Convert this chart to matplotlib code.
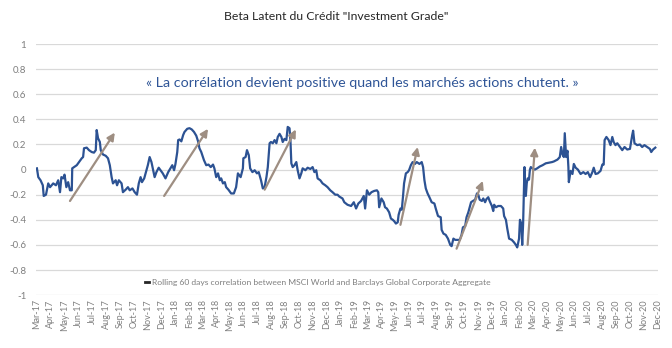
import pandas as pd
import numpy as np
import matplotlib
matplotlib.use('Agg')
import matplotlib.pyplot as plt

plt.rcParams['font.family'] = ['Lato', 'DejaVu Sans']

# rolling 60 days correlation (days since 2017-03-01)
corr_days = [0, 3, 8, 13, 15, 20, 25, 29, 36, 42, 47, 51, 54, 58, 61, 65, 69, 73, 77, 78,
             82, 88, 93, 99, 102, 104, 110, 115, 121, 126, 130, 132, 135, 139, 141, 146, 152, 157, 161, 165,
             168, 174, 177, 181, 187, 190, 196, 201, 205, 211, 216, 221, 225, 229, 232, 237, 242, 245, 249, 253,
             256, 260, 264, 269, 273, 278, 284, 290, 295, 299, 303, 306, 310, 312, 315, 319, 323, 326, 332, 337,
             342, 347, 352, 356, 359, 363, 369, 374, 379, 384, 389, 392, 396, 400, 404, 407, 411, 415, 418, 423,
             429, 435, 440, 444, 450, 455, 456, 461, 464, 468, 471, 476, 481, 486, 490, 495, 499, 503, 507, 510,
             514, 517, 521, 525, 529, 532, 536, 540, 543, 547, 551, 554, 558, 560, 562, 565, 569, 573, 576, 580,
             584, 587, 593, 598, 604, 609, 613, 617, 620, 626, 631, 637, 642, 648, 653, 659, 664, 668, 675, 679,
             686, 694, 700, 705, 710, 716, 722, 725, 729, 734, 739, 745, 751, 754, 756, 761, 766, 769, 773, 778,
             782, 786, 789, 793, 797, 799, 803, 806, 809, 811, 815, 819, 822, 826, 830, 835, 839, 845, 850, 853,
             856, 859, 863, 867, 872, 878, 881, 886, 892, 894, 898, 903, 908, 913, 916, 920, 924, 929, 934, 938,
             941, 946, 949, 953, 956, 959, 963, 968, 972, 975, 978, 983, 986, 990, 993, 997, 1000, 1005, 1008, 1010,
             1014, 1019, 1025, 1030, 1032, 1036, 1039, 1043, 1049, 1054, 1058, 1061, 1065, 1067, 1070, 1072, 1074, 1077, 1078, 1080,
             1082, 1084, 1087, 1089, 1091, 1094, 1100, 1105, 1111, 1117, 1124, 1131, 1138, 1142, 1150, 1155, 1158, 1161, 1164, 1166,
             1169, 1172, 1174, 1175, 1179, 1183, 1186, 1190, 1195, 1201, 1207, 1212, 1217, 1222, 1227, 1230, 1234, 1239, 1245, 1249,
             1252, 1254, 1258, 1263, 1267, 1271, 1274, 1278, 1282, 1288, 1293, 1298, 1304, 1310, 1315, 1317, 1320, 1326, 1332, 1337,
             1342, 1348, 1354, 1357, 1361, 1366]
corr_vals = [0.01, -0.06, -0.085, -0.125, -0.21, -0.2, -0.11, -0.14, -0.11, -0.125, -0.085, -0.18, -0.06, -0.07, -0.04, -0.14, -0.1, -0.165, -0.165, 0.01,
             0.02, 0.035, 0.06, 0.09, 0.1, 0.17, 0.175, 0.155, 0.14, 0.135, 0.155, 0.315, 0.25, 0.22, 0.155, 0.12, 0.11, 0.09, 0.035, -0.06,
             -0.11, -0.085, -0.125, -0.085, -0.11, -0.18, -0.16, -0.14, -0.165, -0.15, -0.18, -0.2, -0.11, -0.06, -0.1, -0.07, -0.005, 0.035, 0.1, 0.06,
             0.01, -0.06, -0.02, 0.015, -0.005, -0.03, -0.07, -0.02, 0.01, 0.035, -0.005, 0.045, 0.14, 0.235, 0.24, 0.225, 0.275, 0.3, 0.325, 0.33,
             0.32, 0.3, 0.27, 0.225, 0.17, 0.14, 0.075, 0.035, 0.04, 0.02, 0.04, 0.01, -0.06, -0.03, -0.085, -0.07, -0.11, -0.1, -0.14, -0.16,
             -0.19, -0.19, -0.14, -0.03, -0.06, 0.01, 0.09, 0.1, 0.155, 0.115, 0.01, -0.02, -0.005, -0.03, -0.02, -0.085, -0.15, -0.14, -0.06, 0.02,
             0.21, 0.22, 0.21, 0.235, 0.21, 0.26, 0.285, 0.26, 0.22, 0.245, 0.235, 0.34, 0.33, 0.235, 0.05, 0.02, 0.035, 0.06, -0.005, -0.07,
             -0.03, 0.01, -0.005, 0.015, 0.005, 0.02, -0.02, -0.005, -0.07, -0.085, -0.11, -0.125, -0.14, -0.165, -0.18, -0.2, -0.2, -0.215, -0.23, -0.26,
             -0.28, -0.29, -0.26, -0.31, -0.27, -0.25, -0.21, -0.31, -0.165, -0.2, -0.18, -0.17, -0.165, -0.18, -0.3, -0.23, -0.26, -0.3, -0.31, -0.34,
             -0.39, -0.4, -0.41, -0.43, -0.42, -0.36, -0.31, -0.32, -0.2, -0.11, -0.03, -0.02, -0.005, 0.035, 0.06, 0.045, 0.06, 0.045, 0.06, 0.02,
             -0.085, -0.15, -0.19, -0.22, -0.26, -0.27, -0.31, -0.37, -0.38, -0.48, -0.51, -0.52, -0.55, -0.6, -0.61, -0.55, -0.56, -0.56, -0.56, -0.52,
             -0.46, -0.45, -0.38, -0.34, -0.3, -0.26, -0.25, -0.24, -0.19, -0.2, -0.24, -0.25, -0.23, -0.26, -0.235, -0.22, -0.25, -0.29, -0.33, -0.28,
             -0.3, -0.29, -0.29, -0.31, -0.37, -0.4, -0.47, -0.55, -0.56, -0.58, -0.6, -0.62, -0.55, -0.4, -0.43, -0.6, -0.43, 0.02, -0.08, -0.21,
             -0.11, -0.07, -0.08, 0.0, 0.02, 0.01, 0.0, 0.01, 0.025, 0.035, 0.05, 0.055, 0.06, 0.065, 0.08, 0.1, 0.18, 0.12, 0.1, 0.29,
             0.1, 0.15, 0.02, -0.1, -0.01, -0.035, 0.045, 0.015, 0.0, -0.035, -0.02, -0.035, -0.02, -0.06, -0.02, 0.015, -0.035, -0.03, -0.01, 0.04,
             0.04, 0.235, 0.26, 0.235, 0.195, 0.26, 0.22, 0.195, 0.21, 0.18, 0.155, 0.18, 0.16, 0.165, 0.275, 0.31, 0.21, 0.195, 0.2, 0.18,
             0.195, 0.18, 0.165, 0.14, 0.16, 0.175]

# arrows (start / end), days since 2017-03-01
arrow_start_days = [73, 281, 503, 803, 927, 1084]
arrow_start_vals = [-0.25, -0.21, -0.16, -0.44, -0.63, -0.6]
arrow_end_days = [172, 378, 572, 841, 985, 1100]
arrow_end_vals = [0.295, 0.325, 0.32, 0.18, -0.09, 0.175]

months = pd.date_range('2017-03-01', '2020-12-01', freq='MS')
month_labels = [m.strftime('%b-%y') for m in months]
y_ticks = [-1, -0.8, -0.6, -0.4, -0.2, 0, 0.2, 0.4, 0.6, 0.8, 1]

start = pd.Timestamp('2017-03-01')
dates = start + pd.to_timedelta(corr_days, unit='D')

fig = plt.figure(figsize=(6.72, 3.48), dpi=100)
ax = fig.add_axes([0.0536, 0.152, 0.9256, 0.7213])

ax.plot(dates, corr_vals, color='#2c5293', lw=1.6,
        label='Rolling 60 days correlation between MSCI World and Barclays Global Corporate Aggregate')

for d0, v0, d1, v1 in zip(arrow_start_days, arrow_start_vals, arrow_end_days, arrow_end_vals):
    ax.annotate('', xy=(start + pd.Timedelta(days=d1), v1),
                xytext=(start + pd.Timedelta(days=d0), v0),
                arrowprops=dict(arrowstyle='-|>', color='#9e8e82', lw=1.6, mutation_scale=11,
                                shrinkA=0, shrinkB=0))

ax.set_ylim(-1, 1)
ax.set_xlim(start - pd.Timedelta(days=2), start + pd.Timedelta(days=1372))
ax.set_yticks(y_ticks)
ax.set_yticklabels([f'{v:g}' for v in y_ticks])
ax.set_xticks(months)
ax.set_xticklabels(month_labels, rotation=90)
ax.tick_params(axis='y', length=0, pad=7, labelsize=7, labelcolor='#7f7f7f')
ax.tick_params(axis='x', length=0, pad=3, labelsize=6.5, labelcolor='#7f7f7f')
for s in ax.spines.values():
    s.set_visible(False)
ax.yaxis.grid(True, color='#d9d9d9', lw=0.9)
ax.set_axisbelow(True)

leg = ax.legend(loc='center left', bbox_to_anchor=(0.168, 0.052), frameon=False,
                fontsize=6.1, handlelength=0.5, handletextpad=0.4, borderpad=0)
for t in leg.get_texts():
    t.set_color('#7f7f7f')
for l in leg.get_lines():
    l.set_color('#262626')
    l.set_linewidth(2)

fig.text(0.5, 1 - 17 / 348, 'Beta Latent du Crédit "Investment Grade"',
         ha='center', va='center', fontsize=8.8, color='#262626')
ax.text(0.524, 0.845, '« La corrélation devient positive quand les marchés actions chutent. »',
        transform=ax.transAxes, ha='center', va='center', fontsize=10.3, color='#2f5597')

fig.savefig('out.png', dpi=100)
